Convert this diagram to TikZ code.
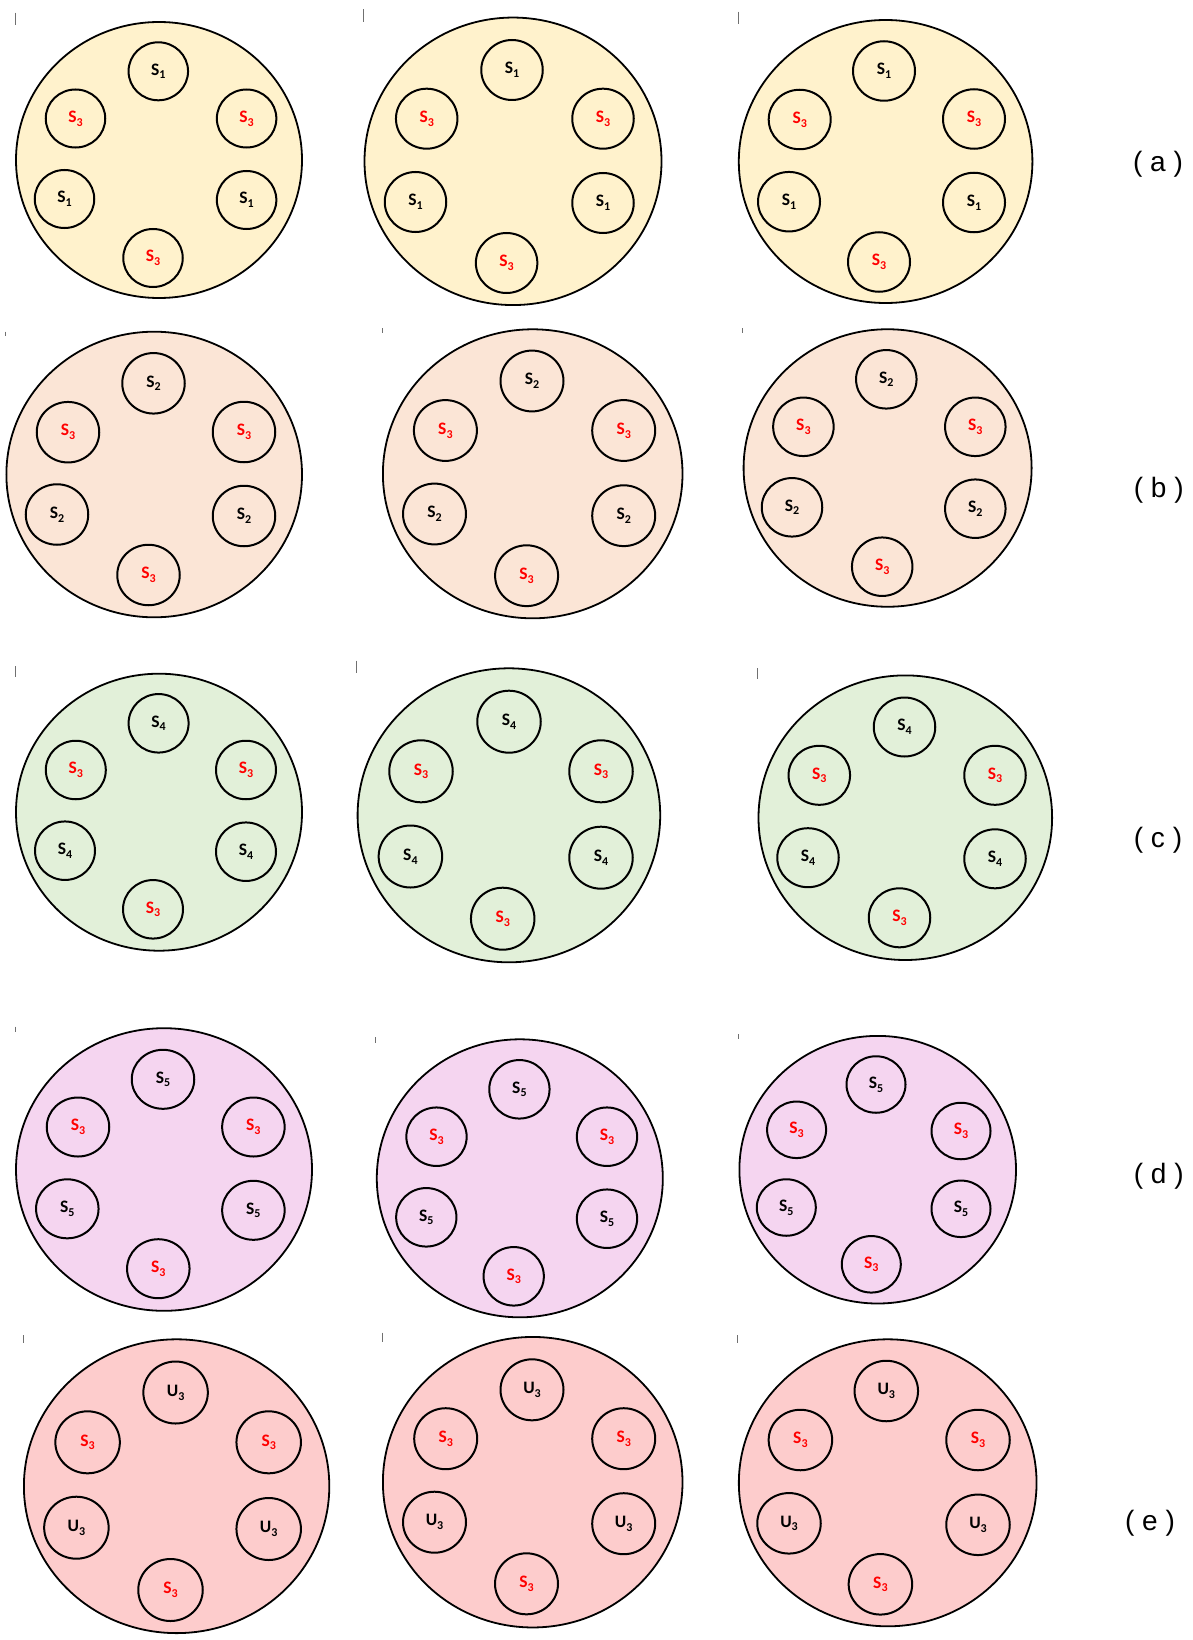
\documentclass[tikz,border=0pt]{standalone}
\usepackage{fontspec}
\usetikzlibrary{shapes.geometric}
\newfontfamily\carl{Carlito}
\newfontfamily\labfont{Liberation Sans}
\definecolor{fa}{HTML}{FFF2CC}
\definecolor{fb}{HTML}{FBE5D6}
\definecolor{fc}{HTML}{E2F0D9}
\definecolor{fd}{HTML}{F5D5F0}
\definecolor{fe}{HTML}{FDCCCC}
\definecolor{sred}{HTML}{FF0000}
\definecolor{tickc}{HTML}{707070}
\newcommand\subdig[1]{\raisebox{-0.22em}{\fontsize{12}{12}\selectfont #1}}
\newcommand\Sx[1]{S\subdig{#1}}
\newcommand\Ux[1]{U\subdig{#1}}
\tikzset{
  big/.style={ellipse, draw=black, line width=1.8pt, inner sep=0pt},
  scw/.style={minimum width=62, minimum height=60},
  sc/.style={ellipse, draw=black, line width=2pt, inner sep=0pt, scw, text=black,
    font=\carl\bfseries\fontsize{17.5}{17.5}\selectfont},
  sr/.style={sc, text=sred},
  tickmark/.style={draw=tickc, line width=1pt},
  rowlabel/.style={font=\labfont\fontsize{28}{30}\selectfont, inner sep=0pt}
}
\begin{document}
\begin{tikzpicture}[x=1pt, y=-1pt]
\useasboundingbox[fill=white] (0,0) rectangle (1192,1640);

% ---------------- row (a) ----------------
\node[big, fill=fa, minimum width=286, minimum height=276] (a1) at (159,160) {};
\draw[tickmark] (15,12.7) -- (15,25);
\begin{scope}[scw/.style={minimum width=59.5, minimum height=58}]
\node[sc] (a1t)  at (158.3,71.3) {\Sx1};
\node[sr] (a1ul) at (75.5,118.5) {\Sx3};
\node[sr] (a1ur) at (246.6,118.5) {\Sx3};
\node[sc] (a1ll) at (64.5,199) {\Sx1};
\node[sc] (a1lr) at (246.6,200) {\Sx1};
\node[sr] (a1b)  at (153,258) {\Sx3};
\end{scope}

\node[big, fill=fa, minimum width=297, minimum height=287.5] (a2) at (513,161.3) {};
\draw[tickmark] (363.5,9.3) -- (363.5,22);
\begin{scope}[scw/.style={minimum width=61.5, minimum height=60}]
\node[sc] (a2t)  at (512,70) {\Sx1};
\node[sr] (a2ul) at (426.7,118.7) {\Sx3};
\node[sr] (a2ur) at (603,118.7) {\Sx3};
\node[sc] (a2ll) at (415.5,202) {\Sx1};
\node[sc] (a2lr) at (603,203) {\Sx1};
\node[sr] (a2b)  at (506.6,263) {\Sx3};
\end{scope}

\node[big, fill=fa, minimum width=293.6, minimum height=283] (a3) at (885.6,161.5) {};
\draw[tickmark] (738,11.7) -- (738,24);
\begin{scope}[scw/.style={minimum width=62, minimum height=59.5}]
\node[sc] (a3t)  at (884,71) {\Sx1};
\node[sr] (a3ul) at (799.7,119.5) {\Sx3};
\node[sr] (a3ur) at (974,119) {\Sx3};
\node[sc] (a3ll) at (789,201.7) {\Sx1};
\node[sc] (a3lr) at (974,202.5) {\Sx1};
\node[sr] (a3b)  at (879,262) {\Sx3};
\end{scope}
\node[rowlabel] (la) at (1158,164.7) {( a )};

% ---------------- row (b) ----------------
\node[big, fill=fb, minimum width=295.6, minimum height=285.6] (b1) at (154.2,474.5) {};
\draw[tickmark] (5.4,331.7) -- (5.4,335.7);
\begin{scope}[scw/.style={minimum width=62.5, minimum height=60.5}]
\node[sc] (b1t)  at (153.5,383.3) {\Sx2};
\node[sr] (b1ul) at (68,432.2) {\Sx3};
\node[sr] (b1ur) at (244,432) {\Sx3};
\node[sc] (b1ll) at (57,514.5) {\Sx2};
\node[sc] (b1lr) at (244,516) {\Sx2};
\node[sr] (b1b)  at (148.5,575) {\Sx3};
\end{scope}

\node[big, fill=fb, minimum width=299.6, minimum height=289] (b2) at (532.7,473.8) {};
\draw[tickmark] (382,328) -- (382,333);
\begin{scope}[scw/.style={minimum width=63, minimum height=60.8}]
\node[sc] (b2t)  at (532,381) {\Sx2};
\node[sr] (b2ul) at (445.4,430.5) {\Sx3};
\node[sr] (b2ur) at (623.7,430.5) {\Sx3};
\node[sc] (b2ll) at (434.5,514) {\Sx2};
\node[sc] (b2lr) at (623.7,515.7) {\Sx2};
\node[sr] (b2b)  at (526.6,575.7) {\Sx3};
\end{scope}

\node[big, fill=fb, minimum width=288, minimum height=277.5] (b3) at (887.6,468) {};
\draw[tickmark] (742.6,328) -- (742.6,333);
\begin{scope}[scw/.style={minimum width=60.5, minimum height=58.5}]
\node[sc] (b3t)  at (886.3,379.3) {\Sx2};
\node[sr] (b3ul) at (803.4,426.8) {\Sx3};
\node[sr] (b3ur) at (975.3,426.8) {\Sx3};
\node[sc] (b3ll) at (792,507.3) {\Sx2};
\node[sc] (b3lr) at (975.3,508.7) {\Sx2};
\node[sr] (b3b)  at (882.2,566.7) {\Sx3};
\end{scope}
\node[rowlabel] (lb) at (1158.7,490.7) {( b )};

% ---------------- row (c) ----------------
\node[big, fill=fc, minimum width=286, minimum height=277] (c1) at (159,812.2) {};
\draw[tickmark] (15,666) -- (15,676.7);
\begin{scope}[scw/.style={minimum width=60, minimum height=58.5}]
\node[sc] (c1t)  at (158.6,723.3) {\Sx4};
\node[sr] (c1ul) at (75.8,770) {\Sx3};
\node[sr] (c1ur) at (246,770) {\Sx3};
\node[sc] (c1ll) at (65,850.7) {\Sx4};
\node[sc] (c1lr) at (246,851.7) {\Sx4};
\node[sr] (c1b)  at (153,909.3) {\Sx3};
\end{scope}

\node[big, fill=fc, minimum width=302.6, minimum height=294] (c2) at (508.9,815.3) {};
\draw[tickmark] (356.7,660.7) -- (356.7,673.3);
\begin{scope}[scw/.style={minimum width=63.5, minimum height=62}]
\node[sc] (c2t)  at (509,721.7) {\Sx4};
\node[sr] (c2ul) at (421,771.3) {\Sx3};
\node[sr] (c2ur) at (601,771.3) {\Sx3};
\node[sc] (c2ll) at (410.4,856.5) {\Sx4};
\node[sc] (c2lr) at (601,857.7) {\Sx4};
\node[sr] (c2b)  at (502.7,918.7) {\Sx3};
\end{scope}

\node[big, fill=fc, minimum width=293.6, minimum height=284.6] (c3) at (905.3,817.7) {};
\draw[tickmark] (757.5,668.3) -- (757.5,679.3);
\begin{scope}[scw/.style={minimum width=61.5, minimum height=59}]
\node[sc] (c3t)  at (904.5,727) {\Sx4};
\node[sr] (c3ul) at (819.3,775.3) {\Sx3};
\node[sr] (c3ur) at (995,775.3) {\Sx3};
\node[sc] (c3ll) at (808,857.7) {\Sx4};
\node[sc] (c3lr) at (995,858.8) {\Sx4};
\node[sr] (c3b)  at (899.5,917.8) {\Sx3};
\end{scope}
\node[rowlabel] (lc) at (1158,840) {( c )};

% ---------------- row (d) ----------------
\node[big, fill=fd, minimum width=296, minimum height=282.6] (d1) at (164,1169.5) {};
\draw[tickmark] (15,1026.7) -- (15,1031.7);
\begin{scope}[scw/.style={minimum width=62.5, minimum height=59}]
\node[sc] (d1t)  at (163,1079.3) {\Sx5};
\node[sr] (d1ul) at (78,1127) {\Sx3};
\node[sr] (d1ur) at (253.4,1127) {\Sx3};
\node[sc] (d1ll) at (67.3,1208.8) {\Sx5};
\node[sc] (d1lr) at (253.4,1210.3) {\Sx5};
\node[sr] (d1b)  at (158.3,1268.7) {\Sx3};
\end{scope}

\node[big, fill=fd, minimum width=286, minimum height=278] (d2) at (519.8,1178.3) {};
\draw[tickmark] (375.7,1037.3) -- (375.7,1043.3);
\begin{scope}[scw/.style={minimum width=60.3, minimum height=58.5}]
\node[sc] (d2t)  at (519.4,1089.3) {\Sx5};
\node[sr] (d2ul) at (436.5,1136.7) {\Sx3};
\node[sr] (d2ur) at (607,1136.7) {\Sx3};
\node[sc] (d2ll) at (426.3,1217.3) {\Sx5};
\node[sc] (d2lr) at (607,1218.7) {\Sx5};
\node[sr] (d2b)  at (513.7,1276.3) {\Sx3};
\end{scope}

\node[big, fill=fd, minimum width=276.6, minimum height=267.6] (d3) at (877.7,1169.7) {};
\draw[tickmark] (738.5,1034) -- (738.5,1039.3);
\begin{scope}[scw/.style={minimum width=59, minimum height=56.5}]
\node[sc] (d3t)  at (876,1084.5) {\Sx5};
\node[sr] (d3ul) at (796.6,1129.8) {\Sx3};
\node[sr] (d3ur) at (961,1131) {\Sx3};
\node[sc] (d3ll) at (786.3,1207.5) {\Sx5};
\node[sc] (d3lr) at (961,1208.8) {\Sx5};
\node[sr] (d3b)  at (871.3,1264.3) {\Sx3};
\end{scope}
\node[rowlabel] (ld) at (1158.7,1176.7) {( d )};

% ---------------- row (e) ----------------
\node[big, fill=fe, minimum width=305.4, minimum height=293.8] (e1) at (176.6,1486.2) {};
\draw[tickmark] (23.1,1335) -- (23.1,1343.3);
\begin{scope}[scw/.style={minimum width=64.5, minimum height=62}]
\node[sc] (e1t)  at (175.6,1392.5) {\Ux3};
\node[sr] (e1ul) at (87.6,1442.3) {\Sx3};
\node[sr] (e1ur) at (268.7,1442.3) {\Sx3};
\node[sc] (e1ll) at (76.4,1527.7) {\Ux3};
\node[sc] (e1lr) at (268.7,1529) {\Ux3};
\node[sr] (e1b)  at (170.5,1590) {\Sx3};
\end{scope}

\node[big, fill=fe, minimum width=299.6, minimum height=290.5] (e2) at (532.7,1482.2) {};
\draw[tickmark] (382,1332.7) -- (382,1341.7);
\begin{scope}[scw/.style={minimum width=63, minimum height=61}]
\node[sc] (e2t)  at (532,1389.8) {\Ux3};
\node[sr] (e2ul) at (445.7,1438.7) {\Sx3};
\node[sr] (e2ur) at (623.7,1438.7) {\Sx3};
\node[sc] (e2ll) at (434.5,1522.2) {\Ux3};
\node[sc] (e2lr) at (623.7,1523.7) {\Ux3};
\node[sr] (e2b)  at (526.5,1583.8) {\Sx3};
\end{scope}

\node[big, fill=fe, minimum width=297.7, minimum height=287] (e3) at (887.7,1482.8) {};
\draw[tickmark] (737.8,1335) -- (737.8,1343.3);
\begin{scope}[scw/.style={minimum width=63.5, minimum height=60.5}]
\node[sc] (e3t)  at (886.3,1391) {\Ux3};
\node[sr] (e3ul) at (800.4,1440) {\Sx3};
\node[sr] (e3ur) at (978,1440) {\Sx3};
\node[sc] (e3ll) at (789,1523.3) {\Ux3};
\node[sc] (e3lr) at (978,1524.8) {\Ux3};
\node[sr] (e3b)  at (880.4,1584.3) {\Sx3};
\end{scope}
\node[rowlabel] (le) at (1150,1523.3) {( e )};

\end{tikzpicture}
\end{document}
